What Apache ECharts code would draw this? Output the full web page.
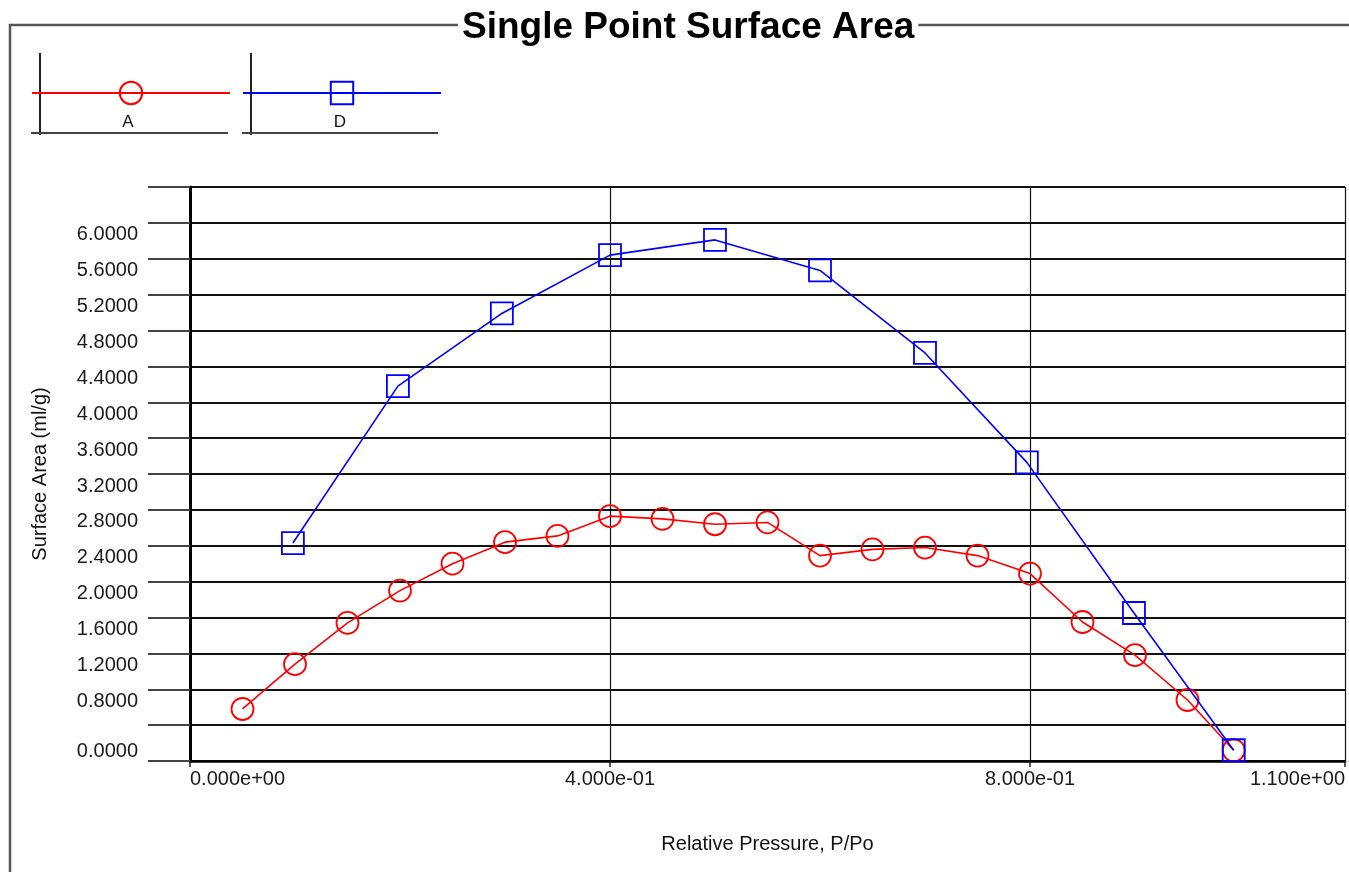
<!DOCTYPE html>
<html>
<head>
<meta charset="utf-8">
<script src="https://cdn.jsdelivr.net/npm/echarts@6/dist/echarts.min.js"></script>
<style>html,body{margin:0;padding:0;background:#fff;}#c{width:1349px;height:872px;}</style>
</head>
<body>
<div id="c"></div>
<script>
const titleText = 'Single Point Surface Area';
const xName = 'Relative Pressure, P/Po';
const yName = 'Surface Area (ml/g)';
const seriesNames = ['A', 'D'];
const xA = [0.05,0.10,0.15,0.20,0.25,0.30,0.35,0.40,0.45,0.50,0.55,0.60,0.65,0.70,0.75,0.80,0.85,0.90,0.95,0.994];
const yA = [0.58,1.08,1.54,1.90,2.20,2.44,2.51,2.73,2.70,2.64,2.66,2.29,2.36,2.38,2.29,2.09,1.55,1.18,0.68,0.12];
const xD = [0.098,0.198,0.297,0.40,0.50,0.60,0.70,0.797,0.899,0.994];
const yD = [2.43,4.18,4.99,5.64,5.81,5.47,4.55,3.33,1.65,0.12];

const FONT = 'Liberation Sans, Arial, sans-serif';
function expFmt(v){
  if (Math.abs(v) < 1e-12) return '0.000e+00';
  let e = Math.floor(Math.log10(Math.abs(v)));
  let m = v / Math.pow(10, e);
  if (Math.abs(m) >= 9.9995) { m /= 10; e++; }
  return m.toFixed(3) + 'e' + (e < 0 ? '-' : '+') + String(Math.abs(e)).padStart(2, '0');
}
const chart = echarts.init(document.getElementById('c'), null, {renderer: 'canvas'});
chart.setOption({
  animation: false,
  backgroundColor: '#fff',
  title: {
    text: titleText, left: 458, top: 9, padding: [0, 4],
    backgroundColor: '#fff',
    textStyle: {fontFamily: FONT, fontSize: 37, fontWeight: 'bold', color: '#000', lineHeight: 38}
  },
  graphic: [
    {type: 'polyline', shape: {points: [[1349, 25], [10, 25], [10, 872]]}, style: {stroke: '#555', lineWidth: 2.5, fill: null}, silent: true},
    {type: 'line', shape: {x1: 40, y1: 53, x2: 40, y2: 135}, style: {stroke: '#222', lineWidth: 2}},
    {type: 'line', shape: {x1: 31, y1: 133, x2: 228, y2: 133}, style: {stroke: '#444', lineWidth: 2}},
    {type: 'line', shape: {x1: 251, y1: 53, x2: 251, y2: 135}, style: {stroke: '#222', lineWidth: 2}},
    {type: 'line', shape: {x1: 242, y1: 133, x2: 438, y2: 133}, style: {stroke: '#444', lineWidth: 2}},
    {type: 'text', x: 128, y: 122, style: {text: seriesNames[0], fontFamily: FONT, fontSize: 17, fill: '#111', align: 'center', verticalAlign: 'middle'}},
    {type: 'text', x: 340, y: 122, style: {text: seriesNames[1], fontFamily: FONT, fontSize: 17, fill: '#111', align: 'center', verticalAlign: 'middle'}}
  ],
  legend: [
    {data: [seriesNames[0]], left: 31, top: 79, padding: 0, itemGap: 0, itemWidth: 198, itemHeight: 28, formatter: () => '', selectedMode: false},
    {data: [seriesNames[1]], left: 242, top: 79, padding: 0, itemGap: 0, itemWidth: 198, itemHeight: 28, formatter: () => '', selectedMode: false}
  ],
  grid: {left: 190, right: 4, top: 187, bottom: 111, containLabel: false},
  xAxis: {
    type: 'value', min: 0, max: 1.1, interval: 0.4,
    name: xName, nameLocation: 'middle', nameGap: 73,
    nameTextStyle: {fontFamily: FONT, fontSize: 20, color: '#111'},
    axisLine: {show: true, onZero: false, lineStyle: {color: '#000', width: 2.5}},
    axisTick: {show: true, length: 6, lineStyle: {color: '#222', width: 1.5}},
    splitLine: {show: true, lineStyle: {color: '#111', width: 1.2}},
    axisLabel: {fontFamily: FONT, fontSize: 20, color: '#1a1a1a', margin: 8, formatter: expFmt,
      showMinLabel: true, showMaxLabel: true, alignMinLabel: 'left', alignMaxLabel: 'right'}
  },
  yAxis: {
    type: 'value', min: 0, max: 6.4, interval: 0.4,
    name: yName, nameLocation: 'middle', nameGap: 140,
    nameTextStyle: {fontFamily: FONT, fontSize: 20, color: '#111'},
    axisLine: {show: true, onZero: false, lineStyle: {color: '#000', width: 3}},
    axisTick: {show: true, length: 42, lineStyle: {color: '#444', width: 2}},
    splitLine: {show: true, lineStyle: {color: '#111', width: 2}},
    axisLabel: {fontFamily: FONT, fontSize: 20, color: '#1a1a1a', margin: 52,
      verticalAlign: 'top', verticalAlignMinLabel: 'bottom', padding: [2, 0, 0, 0],
      showMinLabel: true, showMaxLabel: true,
      formatter: v => (Math.abs(v - 0.4) < 1e-6 || v > 6.3) ? '' : v.toFixed(4)}
  },
  series: [
    {
      name: seriesNames[0], type: 'line',
      data: xA.map((x, i) => [x, yA[i]]),
      symbol: 'circle', symbolSize: 22,
      lineStyle: {color: '#ff0000', width: 1.6},
      itemStyle: {color: 'rgba(0,0,0,0)', borderColor: '#ff0000', borderWidth: 1.8},
      emphasis: {disabled: true}, z: 3
    },
    {
      name: seriesNames[1], type: 'line',
      data: xD.map((x, i) => [x, yD[i]]),
      symbol: 'rect', symbolSize: 22,
      lineStyle: {color: '#0000ff', width: 1.6},
      itemStyle: {color: 'rgba(0,0,0,0)', borderColor: '#0000ff', borderWidth: 1.8},
      emphasis: {disabled: true}, z: 4
    }
  ]
});
</script>
</body>
</html>
